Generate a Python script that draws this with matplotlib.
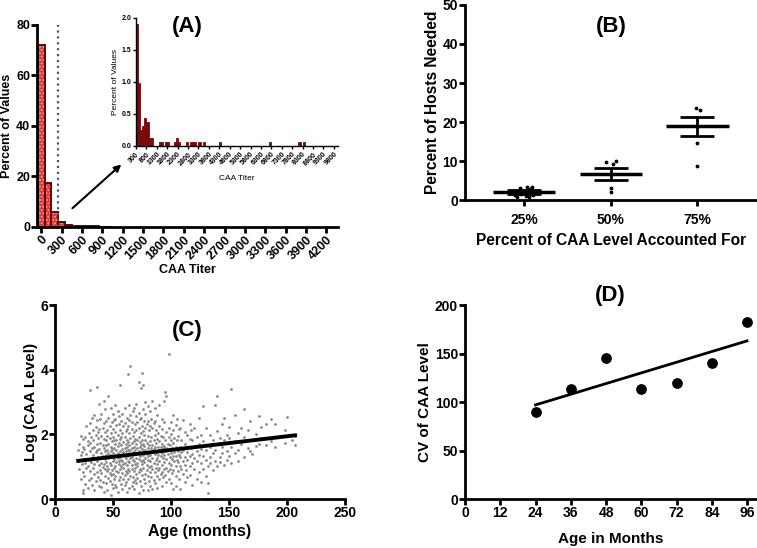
import numpy as np
import matplotlib.pyplot as plt

plt.rcParams['font.family'] = ['Liberation Sans', 'DejaVu Sans']
plt.rcParams['font.weight'] = 'bold'
plt.rcParams['axes.labelweight'] = 'bold'

# ---- data ----
# (A) histogram of CAA titer, bins of 100
titer_bins = [0, 100, 200, 300, 400, 500, 600, 700, 800, 900, 1000]
titer_pct = [72, 17.5, 6, 1.9, 0.98, 0.25, 0.31, 0.44, 0.38, 0.13, 0.13]
cutoff = 250

# inset: titers above 300
tail_bins = [300, 400, 500, 600, 700, 800, 900, 1000, 1400, 1500, 1700, 1800,
             2100, 2200, 2300, 2700, 2900, 3000, 3100, 3300, 3500, 4300,
             6700, 8100, 8300]
tail_pct = [1.9, 0.98, 0.25, 0.31, 0.44, 0.38, 0.13, 0.13, 0.065, 0.065, 0.065,
            0.065, 0.065, 0.13, 0.065, 0.065, 0.065, 0.065, 0.065, 0.065,
            0.065, 0.065, 0.065, 0.065, 0.065]

# (B) percent of hosts needed
b_labels = ['25%', '50%', '75%']
b_mean = [2.1, 6.6, 18.9]
b_sem = [0.45, 1.5, 2.45]
b_points = [
    [0.8, 0.9, 1.0, 1.2, 1.4, 1.5, 1.6, 1.7, 1.8, 1.9, 2.0, 2.1, 2.2, 2.3,
     2.4, 2.5, 2.6, 2.8, 3.0, 3.3, 3.4],
    [2.0, 3.0, 9.2, 9.7, 9.9],
    [8.7, 14.5, 23.1, 23.7],
]
b_jitter = [
    [-0.08, 0.06, 0.02, -0.1, 0.1, -0.04, 0.08, -0.12, 0.04, -0.02, 0.12,
     0.0, -0.06, 0.1, -0.09, 0.05, -0.03, 0.07, -0.05, 0.03, 0.09],
    [0.0, 0.0, 0.03, -0.05, 0.06],
    [0.0, 0.0, 0.03, -0.02],
]

# (C) log CAA level vs age, values read per age (months)
c_columns = [
    (20, [1.18, 1.52]), (21, [0.93, 1.71]), (22, [1.35, 0.62, 1.96]),
    (23, [1.08, 1.44]), (24, [0.27, 0.18, 1.62, 1.87, 0.84]),
    (25, [1.24, 0.71, 1.55]), (26, [1.93, 0.46, 1.12]),
    (27, [1.38, 0.95, 2.27]), (28, [0.33, 1.66, 1.03, 1.79]),
    (29, [0.58, 1.21, 2.05]), (30, [3.36, 1.47, 0.87, 1.74, 2.36]),
    (31, [1.15, 0.64, 1.92]), (32, [2.52, 1.28, 0.42, 1.58]),
    (33, [0.97, 1.83, 2.14, 1.36]), (34, [0.29, 1.62, 2.61, 1.09, 0.76]),
    (35, [1.44, 1.97, 0.55, 2.23]), (36, [3.46, 1.18, 0.83, 1.71, 2.43, 1.52]),
    (37, [0.67, 1.31, 2.06, 1.89]), (38, [2.93, 1.04, 0.39, 1.56, 2.18]),
    (39, [1.27, 0.91, 1.74, 2.47, 0.58]),
    (40, [0.36, 1.41, 1.96, 2.63, 1.12, 0.79]),
    (41, [1.68, 2.21, 0.98, 1.33, 0.52]),
    (42, [3.02, 0.22, 1.57, 1.86, 2.34, 1.08]),
    (43, [0.71, 1.24, 1.49, 2.08, 2.77, 0.94]),
    (44, [1.37, 0.48, 1.82, 2.41, 1.13, 1.66]),
    (45, [0.86, 1.53, 2.12, 1.02, 0.29, 1.94]),
    (46, [3.19, 1.27, 0.66, 1.71, 2.52, 1.43, 0.93]),
    (47, [1.11, 1.88, 2.26, 0.57, 1.36, 0.81]),
    (48, [0.12, 1.62, 2.83, 1.04, 1.47, 0.74, 2.03]),
    (49, [1.29, 0.91, 1.78, 2.37, 0.46, 1.55]),
    (50, [2.64, 1.17, 0.33, 1.42, 1.91, 0.78, 2.16]),
    (51, [1.58, 0.97, 2.44, 1.23, 0.61, 1.84]),
    (52, [2.91, 0.43, 1.36, 1.69, 2.07, 1.01, 0.72, 2.49]),
    (53, [1.14, 1.81, 0.88, 2.28, 1.52, 0.37]),
    (54, [0.21, 1.63, 2.71, 1.26, 0.84, 1.97, 1.41]),
    (55, [1.07, 0.59, 1.74, 2.33, 1.19, 2.58]),
    (56, [3.52, 1.48, 0.92, 1.31, 2.12, 0.67, 1.86]),
    (57, [1.22, 0.45, 1.67, 2.41, 1.03, 1.93]),
    (58, [0.31, 2.62, 1.54, 0.81, 1.17, 2.03, 1.38]),
    (59, [1.76, 1.09, 0.63, 2.27, 1.44, 0.96]),
    (60, [2.81, 0.42, 1.33, 1.59, 1.91, 0.74, 2.34, 1.12]),
    (61, [1.47, 0.88, 2.09, 1.26, 0.53, 1.71]),
    (62, [0.23, 2.51, 1.62, 1.04, 1.83, 0.79, 2.18, 1.36]),
    (63, [3.86, 1.19, 0.61, 1.53, 2.26, 0.94, 1.77]),
    (64, [2.92, 0.34, 1.42, 2.04, 1.13, 1.68, 0.86, 2.43]),
    (65, [4.12, 1.27, 0.72, 1.89, 2.61, 1.51]),
    (66, [0.41, 1.58, 2.17, 1.06, 0.93, 1.74, 2.39, 1.31]),
    (67, [1.22, 0.68, 1.96, 2.72, 1.44, 0.52]),
    (68, [2.83, 0.32, 1.61, 1.17, 2.07, 0.87, 1.38, 1.79]),
    (69, [1.52, 0.96, 2.31, 1.08, 0.59, 1.87]),
    (70, [2.94, 0.48, 1.27, 1.69, 2.14, 1.43, 0.78, 2.56]),
    (71, [1.11, 1.83, 0.66, 2.38, 1.57, 1.02]),
    (72, [3.61, 0.19, 1.48, 1.93, 1.24, 2.21, 0.82, 2.67]),
    (73, [1.34, 0.93, 1.76, 2.46, 1.61, 0.57]),
    (74, [3.42, 0.39, 1.19, 1.66, 2.03, 1.42, 2.52, 0.91]),
    (75, [3.91, 1.56, 1.08, 2.27, 0.73, 1.84]),
    (76, [3.53, 0.29, 1.37, 2.09, 1.71, 0.96, 2.78, 1.22]),
    (77, [1.64, 0.62, 1.98, 2.41, 1.13, 1.47]),
    (78, [3.01, 0.51, 1.28, 1.82, 2.19, 0.77, 1.53, 2.62]),
    (79, [1.06, 1.39, 2.33, 0.89, 1.72]),
    (80, [2.89, 0.28, 1.57, 1.21, 1.94, 0.71, 2.42, 1.33]),
    (81, [1.46, 0.98, 2.12, 1.68, 0.56]),
    (82, [2.71, 0.41, 1.17, 1.79, 1.36, 2.27, 0.83]),
    (83, [1.59, 1.02, 1.91, 0.67, 2.48]),
    (84, [3.03, 0.31, 1.26, 1.68, 2.19, 0.93, 1.47]),
    (85, [1.82, 1.11, 0.58, 2.36, 1.54]),
    (86, [2.81, 0.49, 1.38, 1.97, 0.84, 1.62, 2.41]),
    (87, [1.21, 1.73, 0.97, 2.13]),
    (88, [2.59, 0.33, 1.46, 1.87, 1.09, 0.72, 1.28]),
    (89, [1.61, 2.04, 0.89, 1.37]),
    (90, [2.91, 0.62, 1.18, 1.79, 2.27, 1.51, 0.97]),
    (91, [1.33, 1.96, 0.76, 1.62]),
    (92, [2.48, 0.41, 1.43, 1.71, 2.17, 0.84, 1.06]),
    (93, [1.57, 1.27, 1.93, 0.68]),
    (94, [3.02, 0.92, 1.36, 2.37, 1.64, 1.14]),
    (95, [3.31, 1.48, 1.82, 0.73]),
    (96, [3.18, 0.52, 1.24, 1.59, 2.08, 0.97]),
    (97, [1.38, 1.71, 0.86]),
    (98, [4.48, 0.63, 1.52, 1.93, 2.21, 1.11]),
    (99, [1.29, 1.67, 0.94]),
    (100, [2.39, 0.48, 1.42, 1.81, 1.06, 2.02]),
    (101, [1.23, 1.58, 0.79]),
    (102, [2.61, 0.32, 1.34, 1.72, 2.13, 0.91]),
    (103, [1.46, 1.17, 1.88]),
    (104, [2.29, 0.39, 1.03, 1.61, 0.72, 1.32]),
    (105, [1.81, 1.21, 2.47]), (106, [0.87, 1.49, 1.96, 1.14]),
    (107, [1.37, 0.62, 2.18]), (108, [0.31, 1.62, 1.02, 2.21, 1.29]),
    (109, [1.83, 0.93, 1.44]), (110, [2.43, 0.78, 1.19, 1.53]),
    (112, [0.53, 1.31, 1.71, 2.08, 1.04]), (113, [1.58, 0.89]),
    (114, [1.22, 1.97, 0.68, 1.46]), (116, [0.73, 1.34, 2.31, 1.87, 1.02]),
    (117, [1.57, 2.12]), (118, [0.42, 1.12, 1.81, 1.39]),
    (120, [0.92, 1.62, 2.19, 1.27]), (122, [0.61, 1.48, 1.93, 1.17]),
    (124, [0.84, 1.37, 2.52, 1.71]), (126, [0.52, 1.12, 1.98, 1.56]),
    (128, [2.87, 0.93, 1.33, 1.79]), (130, [0.71, 1.21, 2.21, 1.52]),
    (132, [0.19, 0.48, 1.03, 1.68]), (134, [1.29, 1.97, 1.12, 1.61]),
    (136, [0.91, 1.42, 1.83]), (138, [2.91, 1.18, 1.51]),
    (140, [3.18, 1.02, 1.71, 2.09]), (142, [1.31, 1.89, 1.13]),
    (144, [1.62, 2.32, 1.41]), (146, [2.52, 1.04, 1.82]),
    (148, [1.48, 1.98, 1.21]), (150, [1.88, 1.33, 2.22]),
    (152, [3.39, 1.61, 1.12]), (155, [1.79, 2.61, 1.42]),
    (158, [1.52, 2.03, 1.18]), (160, [2.19, 1.69]),
    (163, [2.79, 1.31, 1.92]), (166, [1.58, 2.12]), (168, [2.41, 1.49]),
    (170, [1.82, 1.38]), (173, [2.02, 1.63]), (176, [2.58, 1.71]),
    (178, [1.89, 2.23]), (182, [1.68, 2.31]), (186, [2.49, 1.79]),
    (190, [2.32, 1.61]), (194, [1.91]), (198, [2.12, 1.72]),
    (200, [2.54]), (204, [1.82]), (207, [1.68, 1.94]),
]
c_zero_ages = [36, 42, 46, 48, 52, 55, 58, 61, 63, 66, 68, 71, 74, 76, 79, 82,
               85, 88, 92, 96, 100, 104, 108, 112, 130, 133]
c_fit_age = [20, 207]
c_fit_log = [1.18, 1.97]

# (D) CV of CAA level by age
d_age = [24, 36, 48, 60, 72, 84, 96]
d_cv = [90, 113, 145, 113, 120, 140, 183]
d_fit_age = [24, 96]
d_fit_cv = [97, 163]


def style_axes(ax, size=9, width=2.0):
    ax.spines['top'].set_visible(False)
    ax.spines['right'].set_visible(False)
    ax.spines['left'].set_linewidth(width)
    ax.spines['bottom'].set_linewidth(width)
    ax.tick_params(direction='out', length=4, width=width, labelsize=size, pad=1)


fig = plt.figure(figsize=(7.57, 5.48), dpi=100)

# ---- (A) ----
ax_a = fig.add_axes([0.049, 0.5858, 0.3975, 0.3686])
# fill with light dotted texture, then dark outline on top
ax_a.bar(titer_bins, titer_pct, width=100, color='#dd3330', edgecolor='#f4a0a0',
         linewidth=0, hatch='.....', align='center')
ax_a.bar(titer_bins, titer_pct, width=100, fill=False, edgecolor='#6e0000',
         linewidth=1.4, align='center')
ax_a.vlines(cutoff, 0, 80, colors='#555555', linestyles=':', linewidth=1.6)
ax_a.set_xlim(-60, 4370)
ax_a.set_ylim(0, 80)
ax_a.set_xticks(np.arange(0, 4201, 300))
ax_a.set_yticks([0, 20, 40, 60, 80])
style_axes(ax_a, size=9)
plt.setp(ax_a.get_xticklabels(), rotation=45, ha='right', rotation_mode='anchor')
ax_a.set_xlabel('CAA Titer', fontsize=9, labelpad=1)
ax_a.set_ylabel('Percent of Values', fontsize=9, labelpad=2)
ax_a.annotate('', xy=(1210, 25.5), xytext=(430, 6.7),
              arrowprops=dict(arrowstyle='-|>', color='black', lw=1.5,
                              mutation_scale=10))
fig.text(0.247, 0.952, '(A)', fontsize=16, ha='center', va='center')

ax_in = fig.add_axes([0.1797, 0.7336, 0.2668, 0.2336])
ax_in.bar(tail_bins, tail_pct, width=100, color='#7a0a0a', edgecolor='#7a0a0a',
          linewidth=0.6, align='edge')
ax_in.set_xlim(300, 10000)
ax_in.set_ylim(0, 2.0)
ax_in.set_xticks(np.arange(300, 9801, 500))
ax_in.set_yticks([0, 0.5, 1.0, 1.5, 2.0])
ax_in.set_yticklabels(['0.0', '0.5', '1.0', '1.5', '2.0'])
style_axes(ax_in, size=5, width=1.0)
ax_in.tick_params(length=2.5)
plt.setp(ax_in.get_xticklabels(), rotation=45, ha='right', rotation_mode='anchor')
ax_in.set_xlabel('CAA Titer', fontsize=6, fontweight='normal', labelpad=6)
ax_in.set_ylabel('Percent of Values', fontsize=6, fontweight='normal', labelpad=2)
ax_in.patch.set_alpha(0)

# ---- (B) ----
ax_b = fig.add_axes([0.6143, 0.635, 0.385, 0.3559])
for i, pts in enumerate(b_points):
    ax_b.scatter(np.array(b_jitter[i]) + i, pts, s=3, color='black', zorder=3)
ax_b.hlines(b_mean, np.arange(3) - 0.36, np.arange(3) + 0.36, colors='black',
            linewidth=2.5, zorder=4)
ax_b.errorbar(np.arange(3), b_mean, yerr=b_sem, fmt='none', ecolor='black',
              elinewidth=2, capsize=12, capthick=2, zorder=4)
ax_b.set_xlim(-0.68, 2.68)
ax_b.set_ylim(0, 50)
ax_b.set_xticks(np.arange(3))
ax_b.set_xticklabels(b_labels)
ax_b.set_yticks(np.arange(0, 51, 10))
style_axes(ax_b, size=10)
ax_b.tick_params(axis='x', pad=5)
ax_b.set_xlabel('Percent of CAA Level Accounted For', fontsize=11.2, labelpad=5)
ax_b.set_ylabel('Percent of Hosts Needed', fontsize=11.2, labelpad=2)
fig.text(0.808, 0.952, '(B)', fontsize=16, ha='center', va='center')

# ---- (C) ----
c_age = [a for a, vals in c_columns for _ in vals]
c_log = [v for a, vals in c_columns for v in vals]
ax_c = fig.add_axes([0.0727, 0.0894, 0.383, 0.354])
ax_c.scatter(c_age, c_log, s=4, color='#8a8a8a', linewidths=0, zorder=2)
ax_c.scatter(c_zero_ages, np.zeros(len(c_zero_ages)), s=4, color='#8a8a8a',
             linewidths=0, zorder=2, clip_on=False)
ax_c.plot(c_fit_age, c_fit_log, color='black', linewidth=2.8, zorder=3)
ax_c.set_xlim(0, 250)
ax_c.set_ylim(0, 6)
ax_c.set_xticks(np.arange(0, 251, 50))
ax_c.set_yticks([0, 2, 4, 6])
style_axes(ax_c, size=10)
ax_c.set_xlabel('Age (months)', fontsize=11.5, labelpad=3)
ax_c.set_ylabel('Log (CAA Level)', fontsize=11, labelpad=2)
fig.text(0.247, 0.397, '(C)', fontsize=16, ha='center', va='center')

# ---- (D) ----
ax_d = fig.add_axes([0.6143, 0.0894, 0.3857, 0.354])
ax_d.scatter(d_age, d_cv, s=45, color='black', zorder=3)
ax_d.plot(d_fit_age, d_fit_cv, color='black', linewidth=2, zorder=2)
ax_d.set_xlim(0, 99.4)
ax_d.set_ylim(0, 200)
ax_d.set_xticks(np.arange(0, 97, 12))
ax_d.set_yticks(np.arange(0, 201, 50))
style_axes(ax_d, size=10)
ax_d.set_xlabel('Age in Months', fontsize=11, labelpad=9)
ax_d.set_ylabel('CV of CAA Level', fontsize=11, labelpad=2)
fig.text(0.806, 0.461, '(D)', fontsize=16, ha='center', va='center')

fig.savefig('out.png', dpi=100)
